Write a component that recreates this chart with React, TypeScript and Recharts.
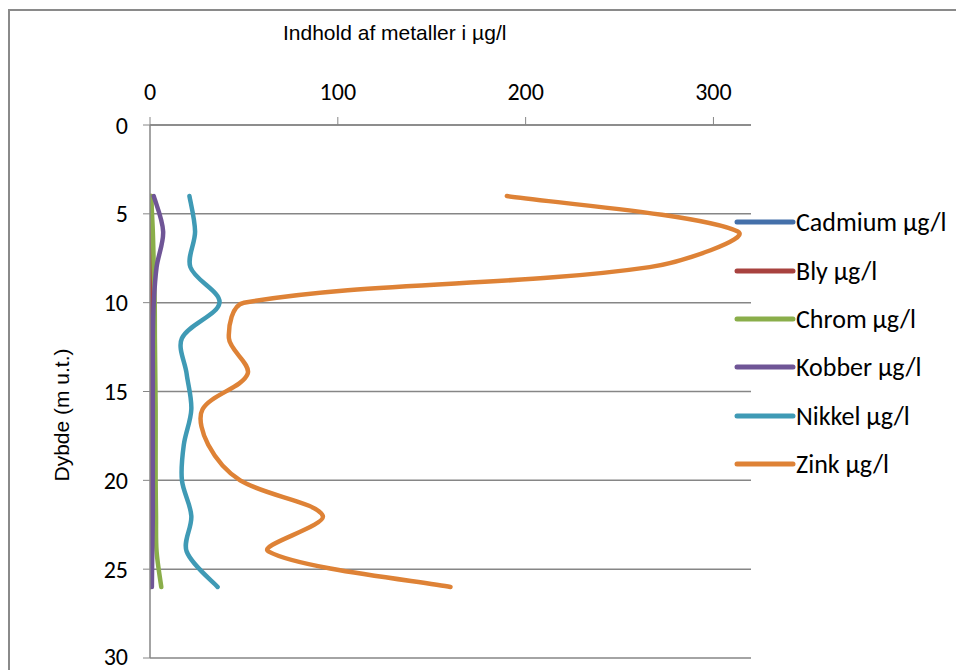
import React from 'react'
import { LineChart, Line, XAxis, YAxis, CartesianGrid, Legend } from 'recharts'

// ── Data ──────────────────────────────────────────────────────────────────────

const depths = [4, 6, 8, 10, 12, 14, 16, 18, 20, 22, 24, 26]
const cadmium = [0.1, 0.1, 0.1, 0.1, 0.1, 0.1, 0.1, 0.1, 0.1, 0.1, 0.1, 0.1]
const bly = [0.6, 0.6, 0.5, 0.4, 0.3, 0.3, 0.3, 0.3, 0.3, 0.3, 0.3, 0.3]
const chrom = [0.6, 1.5, 2, 2.5, 2.6, 2.8, 3, 3, 3, 3.2, 3.5, 6]
const kobber = [2, 7, 3.5, 2, 1.5, 1.5, 1.5, 1.5, 1.5, 1.5, 1.2, 1]
const nikkel = [21, 24, 21.5, 37, 17, 19.5, 22, 18, 17, 22, 19.5, 36]
const zink = [190, 313, 266, 50, 42, 52, 28, 31, 48, 92, 63, 160]

const xTicks = [0, 100, 200, 300]
const yTicks = [0, 5, 10, 15, 20, 25, 30]

const SERIES = [
  { key: 'cadmium', name: 'Cadmium µg/l', color: '#4470AA' },
  { key: 'bly', name: 'Bly µg/l', color: '#A8423F' },
  { key: 'chrom', name: 'Chrom µg/l', color: '#8AAE4A' },
  { key: 'kobber', name: 'Kobber µg/l', color: '#6F5596' },
  { key: 'nikkel', name: 'Nikkel µg/l', color: '#3F9AB5' },
  { key: 'zink', name: 'Zink µg/l', color: '#DE8236' },
]

const data = depths.map((depth, i) => ({
  depth,
  cadmium: cadmium[i],
  bly: bly[i],
  chrom: chrom[i],
  kobber: kobber[i],
  nikkel: nikkel[i],
  zink: zink[i],
}))

// Excel-style smoothed line: beziers with tangents scaled by segment length
function excelSmooth(context: any) {
  let pts: number[][] = []
  const dist = (a: number[], b: number[]) => Math.hypot(b[0] - a[0], b[1] - a[1])
  return {
    areaStart() {},
    areaEnd() {},
    lineStart() { pts = [] },
    point(x: number, y: number) { pts.push([+x, +y]) },
    lineEnd() {
      const n = pts.length
      if (!n) return
      context.moveTo(pts[0][0], pts[0][1])
      for (let i = 0; i < n - 1; i++) {
        const p0 = pts[Math.max(0, i - 1)]
        const p1 = pts[i]
        const p2 = pts[i + 1]
        const p3 = pts[Math.min(n - 1, i + 2)]
        const d01 = dist(p0, p1), d12 = dist(p1, p2), d23 = dist(p2, p3)
        const s1 = d01 + d12 > 0 ? (2 * d12) / (d01 + d12) / 6 : 0
        const s2 = d12 + d23 > 0 ? (2 * d12) / (d12 + d23) / 6 : 0
        const k1 = i === 0 ? 1 / 6 : s1
        const k2 = i + 2 > n - 1 ? 1 / 6 : s2
        context.bezierCurveTo(
          p1[0] + (p2[0] - p0[0]) * k1, p1[1] + (p2[1] - p0[1]) * k1,
          p2[0] - (p3[0] - p1[0]) * k2, p2[1] - (p3[1] - p1[1]) * k2,
          p2[0], p2[1],
        )
      }
    },
  }
}

const TICK_FONT = "Carlito, Lato, 'Open Sans', sans-serif"
const LABEL_FONT = "'Liberation Sans', Arial, sans-serif"
const AXIS_COLOR = '#868686'

function LegendList({ payload }: any) {
  const items = [...(payload || [])].sort(
    (a: any, b: any) =>
      SERIES.findIndex((s) => s.key === a.dataKey) - SERIES.findIndex((s) => s.key === b.dataKey),
  )
  return (
    <div style={{ fontFamily: TICK_FONT, fontSize: 26, color: '#000' }}>
      {items.map((p: any) => (
        <div key={p.value} style={{ display: 'flex', alignItems: 'center', height: 48.4 }}>
          <svg width={62} height={10} style={{ display: 'block' }}>
            <line x1={3} y1={5} x2={59} y2={5} stroke={p.color} strokeWidth={5} strokeLinecap="round" />
          </svg>
          <span style={{ whiteSpace: 'nowrap' }}>{p.value}</span>
        </div>
      ))}
    </div>
  )
}

export default function App() {
  return (
    <div style={{ position: 'relative', width: 956, height: 662, overflow: 'hidden', background: '#fff' }}>
      <div style={{
        position: 'absolute', left: 0, top: 1, width: 1200, height: 1200,
        border: '2px solid #8a8a8a', boxSizing: 'border-box',
      }} />
      <div style={{
        position: 'absolute', left: 275, top: 13, fontFamily: LABEL_FONT,
        fontSize: 21, whiteSpace: 'nowrap',
      }}>
        Indhold af metaller i µg/l
      </div>
      <div style={{
        position: 'absolute', left: 54, top: 407, fontFamily: LABEL_FONT,
        fontSize: 21, whiteSpace: 'nowrap', transform: 'translate(-50%, -50%) rotate(-90deg)',
      }}>
        Dybde (m u.t.)
      </div>
      <div style={{ position: 'absolute', left: 0, top: 0 }}>
        <LineChart
          width={956}
          height={662}
          data={data}
          layout="vertical"
          margin={{ top: 77, right: 213, left: 82, bottom: 12 }}
        >
          <CartesianGrid horizontal vertical={false} stroke={AXIS_COLOR} strokeWidth={1.5} />
          <XAxis
            type="number"
            orientation="top"
            domain={[0, 320]}
            ticks={xTicks}
            height={40}
            allowDataOverflow
            tickSize={8}
            tickMargin={17}
            tick={{ fontSize: 24, fill: '#000', fontFamily: TICK_FONT }}
            axisLine={{ stroke: AXIS_COLOR, strokeWidth: 1.5 }}
            tickLine={{ stroke: AXIS_COLOR }}
          />
          <YAxis
            type="number"
            dataKey="depth"
            domain={[0, 30]}
            ticks={yTicks}
            width={60}
            allowDataOverflow
            tickSize={7}
            tickMargin={15}
            tick={{ fontSize: 24, fill: '#000', fontFamily: TICK_FONT }}
            axisLine={{ stroke: AXIS_COLOR, strokeWidth: 1.5 }}
            tickLine={{ stroke: AXIS_COLOR }}
          />
          <Legend
            layout="horizontal"
            align="center"
            verticalAlign="middle"
            content={<LegendList />}
            wrapperStyle={{ left: 726, top: 190, width: 240 }}
          />
          {SERIES.map((s) => (
            <Line
              key={s.key}
              dataKey={s.key}
              name={s.name}
              stroke={s.color}
              strokeWidth={4.5}
              strokeLinecap="round"
              strokeLinejoin="round"
              type={excelSmooth as any}
              dot={false}
              activeDot={false}
              isAnimationActive={false}
            />
          ))}
        </LineChart>
      </div>
    </div>
  )
}
